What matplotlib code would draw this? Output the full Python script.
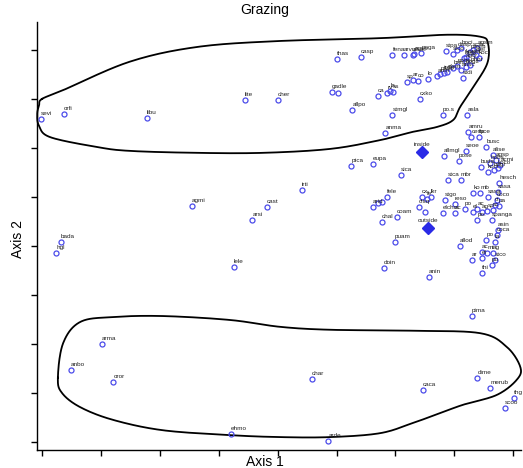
import numpy as np
import matplotlib
matplotlib.use("Agg")
import matplotlib.pyplot as plt

# ---- species scores (Axis 1, Axis 2) ----
species = ["sevi", "orfi", "libu", "lite", "cher", "thas", "casp",
           "fena", "arvu", "alsa", "agsp", "poga", "stpa",
           "stco", "dasp", "boci", "bogr", "agcr", "koma", "pasm", "scsc", "elel", "agsm", "kocr", "phpr",
           "sp", "ar", "co", "lo", "anm", "pasc", "trdu", "elsm", "brin", "poco", "ansc", "bogc",
           "stdi", "cxko", "gadle", "", "ca", "rv", "la", "ss",
           "allpo", "stmgl", "anma", "po.s", "asla", "amru", "cesp", "fuce", "seoe", "busc",
           "allmgl", "pose", "alise", "agsp", "acmi", "bugr", "koco", "hobs", "buda", "kocr",
           "stca", "mbr", "hesch", "sasa", "sica", "ptca", "eupa", "irti", "agmi", "cast", "arsi",
           "lele", "bada", "hgl", "fele", "", "arid", "",
           "cx", "fe", "lkr", "stgo", "reso", "clsq", "", "elcho", "ac",
           "ko", "mb", "sasa", "coco", "ci",
           "po", "el", "ac", "ag", "sp", "sc", "pa",
           "po.", "spanga", "chal", "coam", "puam", "allod", "doin", "anin",
           "asin", "coca", "po", "ta", "ac", "mi", "ag", "ar", "el", "stco", "pu", "thi",
           "pima",
           "arma", "anbo", "oror", "ehmo", "char", "caca", "dime", "merub", "thg", "scoo", "arde"]
axis1 = [-0.02, 0.37, 1.78, 3.44, 4.00, 5.00, 5.41,
         5.95, 6.14, 6.29, 6.32, 6.44, 6.85,
         6.98, 7.05, 7.12, 7.17, 7.20, 7.20, 7.27, 7.32, 7.36, 7.39, 7.42, 7.27,
         6.20, 6.30, 6.38, 6.55, 6.71, 6.76, 6.83, 6.88, 6.98, 7.05, 7.12, 7.19,
         7.15, 6.42, 4.92, 5.02, 5.70, 5.86, 5.91, 5.96,
         5.27, 5.95, 5.83, 6.80, 7.22, 7.24, 7.29, 7.42, 7.20, 7.54,
         6.82, 7.08, 7.66, 7.71, 7.78, 7.67, 7.74, 7.61, 7.45, 7.57,
         6.89, 7.11, 7.76, 7.74, 6.10, 5.25, 5.62, 4.41, 2.55, 3.82, 3.57,
         3.26, 0.32, 0.24, 5.86, 5.77, 5.62, 5.70,
         6.45, 6.54, 6.60, 6.84, 7.01, 6.40, 6.50, 6.81, 7.01,
         7.32, 7.44, 7.57, 7.72, 7.69,
         7.18, 7.32, 7.39, 7.47, 7.56, 7.66, 7.76,
         7.39, 7.64, 5.77, 6.03, 5.99, 7.10, 5.81, 6.57,
         7.74, 7.72, 7.54, 7.69, 7.47, 7.56, 7.66, 7.30, 7.47, 7.69, 7.64, 7.47,
         7.30,
         1.02, 0.49, 1.21, 3.21, 4.58, 6.47, 7.39, 7.61, 8.01, 7.86, 4.86]
axis2 = [6.59, 6.69, 6.61, 6.98, 6.98, 7.82, 7.86,
         7.90, 7.90, 7.90, 7.92, 7.94, 7.98,
         7.92, 8.00, 8.04, 7.84, 7.78, 7.86, 7.96, 8.00, 7.90, 8.04, 7.84, 7.69,
         7.35, 7.39, 7.37, 7.41, 7.47, 7.51, 7.53, 7.55, 7.63, 7.67, 7.59, 7.65,
         7.43, 7.00, 7.14, 7.12, 7.06, 7.12, 7.16, 7.14,
         6.78, 6.67, 6.31, 6.67, 6.67, 6.33, 6.22, 6.22, 5.94, 6.02,
         5.84, 5.73, 5.86, 5.76, 5.65, 5.55, 5.59, 5.69, 5.61, 5.51,
         5.35, 5.35, 5.29, 5.10, 5.45, 5.63, 5.67, 5.14, 4.82, 4.80, 4.53,
         3.57, 4.08, 3.86, 5.00, 4.90, 4.80, 4.88,
         5.00, 4.96, 5.00, 4.94, 4.86, 4.80, 4.69, 4.67, 4.67,
         5.08, 5.08, 5.00, 4.94, 4.84,
         4.76, 4.69, 4.76, 4.69, 4.71, 4.73, 4.82,
         4.53, 4.53, 4.49, 4.59, 4.08, 4.00, 3.55, 3.37,
         4.33, 4.22, 4.12, 4.08, 3.88, 3.86, 3.86, 3.71, 3.76, 3.71, 3.61, 3.45,
         2.57,
         2.00, 1.47, 1.22, 0.16, 1.29, 1.06, 1.31, 1.10, 0.90, 0.69, 0.02]

# ---- group centroids (filled diamonds) ----
groups = ["inside", "outside"]
group_axis1 = [6.45, 6.55]
group_axis2 = [5.92, 4.37]

# ---- hand-drawn outlines ----
upper_outline_x = [0.00, 0.36, 1.49, 2.63, 3.99, 5.74, 6.88, 7.44, 7.57, 7.56, 7.32, 7.10,
                   6.98, 6.71, 6.30, 5.74, 4.89, 3.75, 2.63, 1.49, 0.93, 0.14, -0.05, -0.08, -0.05]
upper_outline_y = [7.00, 7.18, 7.76, 8.06, 8.18, 8.24, 8.31, 8.27, 8.14, 7.73, 7.24, 6.84,
                   6.57, 6.43, 6.33, 6.16, 5.98, 5.90, 5.90, 5.94, 6.02, 6.22, 6.45, 6.69, 6.87]
lower_outline_x = [0.27, 0.36, 0.65, 1.21, 2.05, 3.19, 4.04, 4.89, 6.30, 7.44, 7.89, 8.12,
                   8.06, 7.72, 7.15, 6.76, 6.30, 5.74, 4.89, 4.04, 3.19, 2.05, 1.21, 0.65, 0.34]
lower_outline_y = [1.31, 2.02, 2.45, 2.55, 2.57, 2.49, 2.35, 2.29, 2.27, 2.22, 1.94, 1.53,
                   1.27, 0.96, 0.76, 0.59, 0.39, 0.18, 0.10, 0.10, 0.14, 0.24, 0.45, 0.71, 1.00]


def closed_catmull_rom(xs, ys, n=20):
    P = np.column_stack([xs, ys])
    m = len(P)
    out = []
    for i in range(m):
        p0, p1, p2, p3 = P[(i - 1) % m], P[i], P[(i + 1) % m], P[(i + 2) % m]
        t = np.linspace(0, 1, n, endpoint=False)[:, None]
        seg = 0.5 * ((2 * p1) + (-p0 + p2) * t + (2 * p0 - 5 * p1 + 4 * p2 - p3) * t ** 2
                     + (-p0 + 3 * p1 - 3 * p2 + p3) * t ** 3)
        out.append(seg)
    out.append(P[:1])
    out = np.vstack(out)
    return out[:, 0], out[:, 1]


plt.rcParams['font.family'] = ['Liberation Sans', 'DejaVu Sans']
fig = plt.figure(figsize=(5.23, 4.68), dpi=100)
ax = fig.add_axes([0.0707, 0.0385, 0.9253, 0.9145])
ax.set_xlim(-0.085, 8.13)
ax.set_ylim(-0.163, 8.57)

for ox, oy in [(upper_outline_x, upper_outline_y), (lower_outline_x, lower_outline_y)]:
    sx, sy = closed_catmull_rom(ox, oy)
    ax.plot(sx, sy, color='black', lw=1.3, clip_on=False, zorder=2)

ax.plot(axis1, axis2, linestyle='none', marker='o', markersize=3.6,
        markerfacecolor='none', markeredgecolor='#4b4bea', markeredgewidth=0.9, zorder=3,
        clip_on=False)
for name, xv, yv in zip(species, axis1, axis2):
    if name:
        ax.annotate(name, (xv, yv), xytext=(0, 2.2), textcoords='offset points',
                    fontsize=4.6, color='#222222', ha='left', va='bottom', zorder=4)

ax.plot(group_axis1, group_axis2, linestyle='none', marker='D', markersize=6,
        color='#2a2ae6', zorder=5)
for name, xv, yv in zip(groups, group_axis1, group_axis2):
    ax.annotate(name, (xv, yv), xytext=(0, 3.5), textcoords='offset points',
                fontsize=4.6, color='#222222', ha='center', va='bottom', zorder=4)

for s in ['top', 'right']:
    ax.spines[s].set_visible(False)
for s in ['left', 'bottom']:
    ax.spines[s].set_linewidth(1.0)
ax.set_xticks(np.arange(0, 9))
ax.set_yticks(np.arange(0, 9))
ax.tick_params(direction='out', length=4, width=1, labelbottom=False, labelleft=False)

fig.text(0.507, 0.978, "Grazing", ha='center', va='center', fontsize=10)
fig.text(0.507, 0.012, "Axis 1", ha='center', va='center', fontsize=10)
fig.text(0.034, 0.49, "Axis 2", ha='center', va='center', fontsize=10, rotation=90)

fig.savefig("out.png", dpi=100)
